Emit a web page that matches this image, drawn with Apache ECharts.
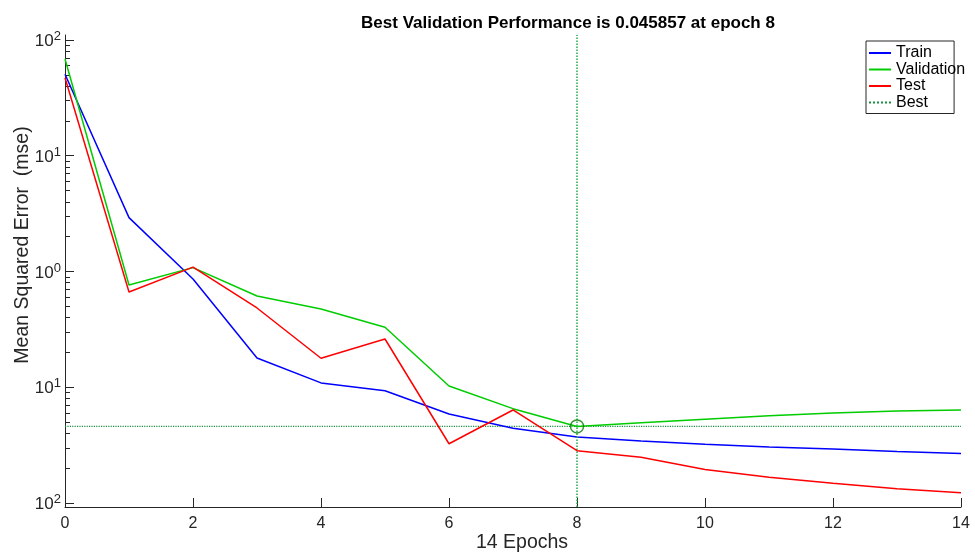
<!DOCTYPE html>
<html><head><meta charset="utf-8">
<script src="https://cdn.jsdelivr.net/npm/echarts@6/dist/echarts.min.js"></script>
<style>html,body{margin:0;padding:0;background:#fff}#c{width:975px;height:555px}</style>
</head><body><div id="c"></div>
<script>
const epochs = [0,1,2,3,4,5,6,7,8,9,10,11,12,13,14];
const trainMse = [50.6, 2.92, 0.86, 0.179, 0.109, 0.0933, 0.0587, 0.0442, 0.0372, 0.0343, 0.0321, 0.0305, 0.0293, 0.0279, 0.0267];
const validationMse = [68.5, 0.764, 1.08, 0.614, 0.474, 0.33, 0.1025, 0.0653, 0.045857, 0.0494, 0.0528, 0.0567, 0.060, 0.0624, 0.0636];
const testMse = [47.2, 0.665, 1.09, 0.484, 0.178, 0.261, 0.0325, 0.0636, 0.0283, 0.0248, 0.0195, 0.01667, 0.0148, 0.0133, 0.01227];
const bestEpoch = 8;
const bestPerf = 0.045857;
const xTicks = [0,2,4,6,8,10,12,14];
const yDecades = [-2,-1,0,1,2];
const titleText = 'Best Validation Performance is 0.045857 at epoch 8';
const xName = '14 Epochs';
const yName = 'Mean Squared Error  (mse)';

const lg = v => Math.log10(v);
const toPts = arr => arr.map((v,i) => [epochs[i], lg(v)]);
const minorVals = [];
for (let d = -3; d <= 2; d++) for (let k = 2; k <= 9; k++) { const v = d + Math.log10(k); if (v > -2.04 && v < 2.05) minorVals.push(v); }

const yMin = -2.0346, yMax = 2.043;
const font = 'Liberation Sans, Arial, Helvetica, sans-serif';
const axCol = '#262626';
const bestCol = '#1a9040';

const chart = echarts.init(document.getElementById('c'), null, {renderer:'canvas'});
chart.setOption({
  animation: false,
  backgroundColor: '#fff',
  textStyle: {fontFamily: font},
  title: {text: titleText, left: 563, top: 10, textAlign: 'center',
    textStyle: {fontSize: 17, fontWeight: 'bold', color: '#000', fontFamily: font}},
  grid: {left: 65, right: 14, top: 35, bottom: 48, containLabel: false, outerBoundsMode: 'none'},
  legend: {
    orient: 'vertical', left: 866, top: 41, itemWidth: 22, itemHeight: 14, itemGap: 0.5,
    padding: [4, -11, 3, 2], borderColor: axCol, borderWidth: 1, backgroundColor: '#fff',
    itemStyle: {opacity: 0},
    textStyle: {fontSize: 16, lineHeight: 14, color: '#000', fontFamily: font},
    data: ['Train','Validation','Test','Best']
  },
  xAxis: {
    type: 'value', min: 0, max: 14, interval: 2,
    name: xName, nameLocation: 'middle', nameGap: 26, nameMoveOverlap: false,
    nameTextStyle: {fontSize: 19.5, color: axCol, fontFamily: font, padding: [0, 0, 0, 18]},
    axisLine: {show: true, onZero: false, lineStyle: {color: axCol, width: 1}},
    axisTick: {show: true, inside: true, length: 9, lineStyle: {color: axCol}, customValues: xTicks},
    axisLabel: {fontSize: 16, color: axCol, margin: 9, customValues: xTicks},
    splitLine: {show: false}
  },
  yAxis: [{
    type: 'value', min: yMin, max: yMax,
    name: yName, nameLocation: 'middle', nameGap: 32, nameMoveOverlap: false,
    nameTextStyle: {fontSize: 19.5, color: axCol, fontFamily: font, padding: [0, 0, 0, 52]},
    axisLine: {show: true, onZero: false, lineStyle: {color: axCol, width: 1}},
    axisTick: {show: true, inside: true, length: 9, lineStyle: {color: axCol}, customValues: yDecades},
    axisLabel: {customValues: yDecades, margin: 4, color: axCol,
      formatter: v => '{b|10}{e|' + Math.abs(Math.round(v)) + '}',
      rich: {b: {fontSize: 17, lineHeight: 20, verticalAlign: 'bottom', color: axCol, fontFamily: font},
             e: {fontSize: 13, lineHeight: 13, verticalAlign: 'top', color: axCol, fontFamily: font}}},
    splitLine: {show: false}
  }, {
    type: 'value', min: yMin, max: yMax, position: 'left',
    axisLine: {show: false, onZero: false},
    axisTick: {show: true, inside: true, length: 5, lineStyle: {color: axCol}, customValues: minorVals},
    axisLabel: {show: false},
    splitLine: {show: false}
  }],
  series: [
    {name: 'Train', type: 'line', symbol: 'none', data: toPts(trainMse),
     lineStyle: {color: '#0000ff', width: 1.5}, itemStyle: {color: '#0000ff'}, z: 3},
    {name: 'Validation', type: 'line', symbol: 'none', data: toPts(validationMse),
     lineStyle: {color: '#00cc00', width: 1.5}, itemStyle: {color: '#00cc00'}, z: 4},
    {name: 'Test', type: 'line', symbol: 'none', data: toPts(testMse),
     lineStyle: {color: '#ff0000', width: 1.5}, itemStyle: {color: '#ff0000'}, z: 5},
    {name: 'Best', type: 'line', symbol: 'none',
     data: [[epochs[0], lg(bestPerf)], [epochs[epochs.length-1], lg(bestPerf)]],
     lineStyle: {color: bestCol, width: 1.2, type: 'dotted'}, itemStyle: {color: bestCol}, z: 2,
     markLine: {silent: true, symbol: 'none', label: {show: false},
       lineStyle: {color: '#22a84a', width: 1.5, type: 'dotted', opacity: 1},
       data: [{xAxis: bestEpoch}]}},
    {name: 'bestPoint', type: 'scatter', symbol: 'circle', symbolSize: 13,
     data: [[bestEpoch, lg(bestPerf)]],
     itemStyle: {color: 'rgba(0,0,0,0)', borderColor: '#008000', borderWidth: 1.5}, z: 6}
  ]
});
</script></body></html>
